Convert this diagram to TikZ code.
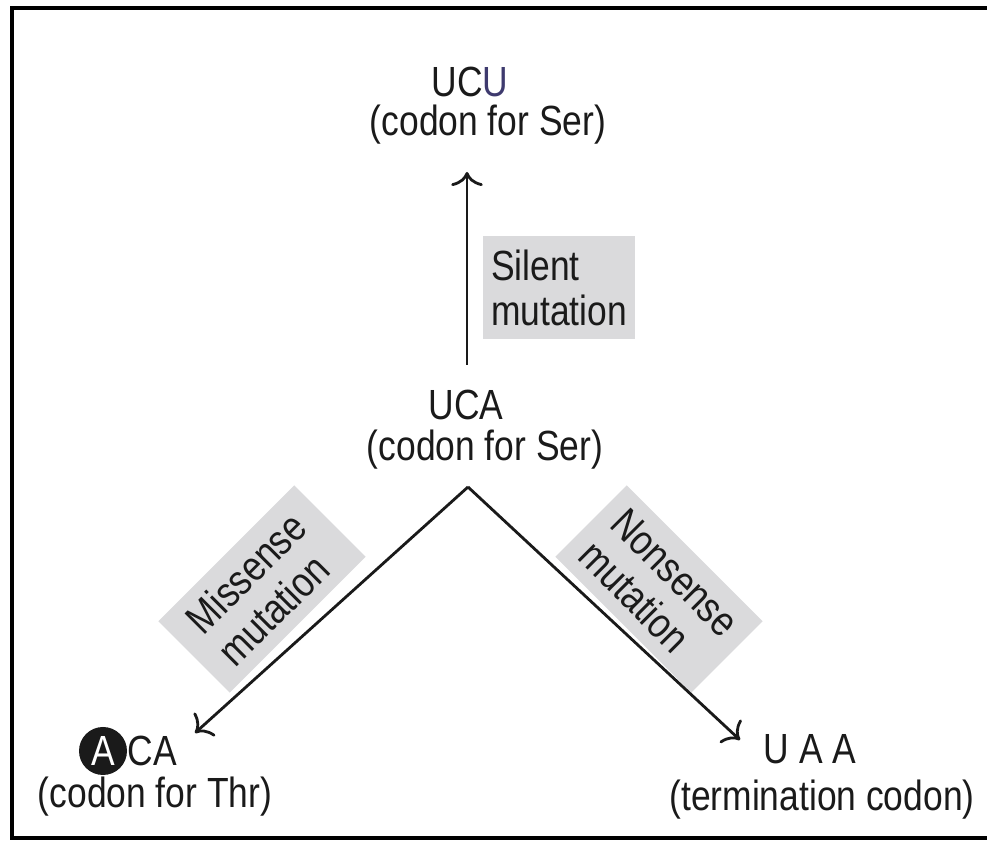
\documentclass[tikz,border=0pt]{standalone}
\usepackage{fontspec}
\setmainfont{Liberation Sans}[FakeStretch=0.84]
\usepackage{xcolor}
\usetikzlibrary{arrows.meta,positioning}
\definecolor{inkgrey}{RGB}{26,26,26}
\definecolor{ucublue}{RGB}{62,58,110}
\definecolor{boxgrey}{RGB}{218,218,220}
\tikzset{
  codon/.style={inner sep=0pt, text=inkgrey, font=\fontsize{24}{27}\selectfont},
  mutbox/.style={fill=boxgrey, text=inkgrey, align=left, inner sep=4pt,
    font=\fontsize{24}{26}\selectfont},
  mutarrow/.style={line width=1.6pt, inkgrey, -{To[length=8pt,width=18pt]}}
}

\begin{document}
\begin{tikzpicture}
    \useasboundingbox (0,0) rectangle (19.74,16.86);
    % frame, open on the right
    \draw[line width=2.4pt, black] (19.74,16.70) -| (0.24,0.10) -- (19.74,0.10);

    % codons
    \node[codon] (ucu) at (9.40,15.22) {UC\textcolor{ucublue}{U}};
    \node[codon] (ucuname) at (9.76,14.36) {(codon for Ser)};
    \node[codon] (uca) at (9.32,8.76) {UCA};
    \node[codon] (ucaname) at (9.70,7.86) {(codon for Ser)};
    \node[circle, fill=inkgrey, text=white, inner sep=0pt, minimum size=0.96cm,
      font=\fontsize{24}{27}\selectfont] (acamut) at (2.06,1.84) {A};
    \node[codon, right=0pt of acamut] (aca) {CA};
    \node[codon] (acaname) at (3.10,0.92) {(codon for Thr)};
    \node[codon] (uaa) at (16.20,1.88) {U A A};
    \node[codon] (uaaname) at (16.44,0.86) {(termination codon)};

    % mutation labels
    \node[mutbox, minimum width=3.04cm, minimum height=2.06cm] (silent) at (11.18,11.10) {Silent\\mutation};
    \node[mutbox, minimum width=3.84cm, minimum height=2.02cm, rotate=45] (missense) at (5.24,5.08) {Missense\\mutation};
    \node[mutbox, minimum width=3.84cm, minimum height=2.02cm, rotate=-45] (nonsense) at (13.18,5.08) {Nonsense\\mutation};

    % arrows
    \coordinate (silentfoot) at (9.34,9.56);
    \coordinate (silenttip) at (9.34,13.42);
    \coordinate (fork) at (9.36,7.12);
    \coordinate (missensetip) at (3.90,2.20);
    \coordinate (nonsensetip) at (14.80,2.06);
    \draw[mutarrow] (silentfoot) -- (silenttip);
    \draw[mutarrow] (fork) -- (missensetip);
    \draw[mutarrow] (fork) -- (nonsensetip);
  \end{tikzpicture}
\end{document}
